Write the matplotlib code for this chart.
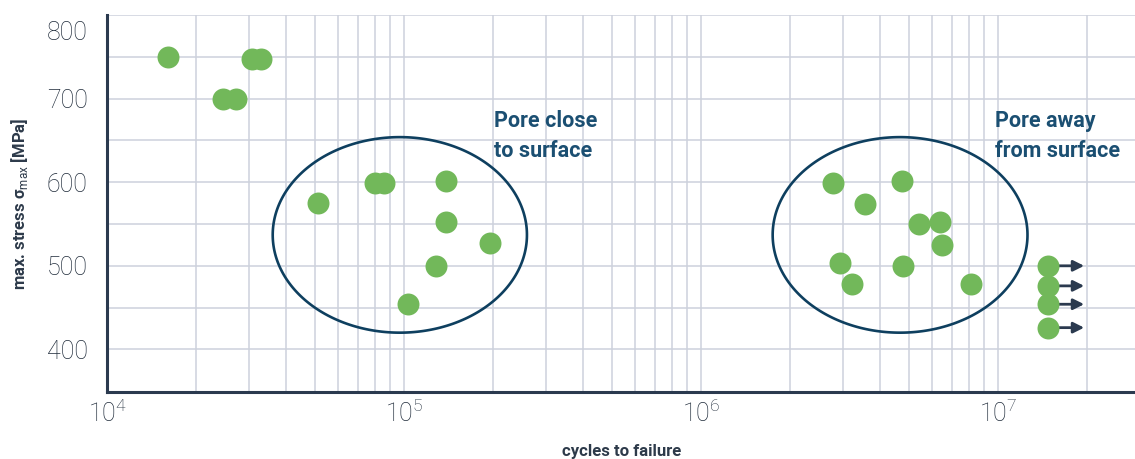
import numpy as np
import matplotlib.pyplot as plt
from matplotlib.patches import Polygon
from matplotlib.ticker import FixedLocator, LogLocator, NullFormatter
from matplotlib.transforms import ScaledTranslation

plt.rcParams['font.family'] = ['Roboto', 'DejaVu Sans']
plt.rcParams['mathtext.fontset'] = 'custom'
plt.rcParams['mathtext.rm'] = 'Roboto'
plt.rcParams['mathtext.bf'] = 'Roboto:bold'

# failures outside the ellipses (short life)
low_cycles = [1.60e4, 2.46e4, 2.72e4, 3.08e4, 3.30e4]
low_stress = [750, 700, 700, 747, 747]

# pore close to surface
close_cycles = [5.14e4, 7.98e4, 8.59e4, 1.38e5, 1.39e5, 1.95e5, 1.28e5, 1.035e5]
close_stress = [575, 599, 599, 602, 552, 527, 500, 454]

# pore away from surface
away_cycles = [2.79e6, 4.76e6, 3.57e6, 5.43e6, 6.39e6, 6.48e6, 2.94e6, 4.79e6, 3.22e6, 8.09e6]
away_stress = [599, 602, 574, 550, 552, 525, 503, 500, 478, 478]

# run-outs
runout_cycles = [1.47e7, 1.47e7, 1.47e7, 1.47e7]
runout_stress = [500, 476, 454, 426]
runout_arrow_end = 1.95e7

# ellipses: centre (cycles, stress), half width in decades, half height in MPa
ellipse_close = (9.68e4, 537, 0.428, 117)
ellipse_away = (4.68e6, 537, 0.429, 117)

green = '#72b85a'
navy = '#2b3a4f'
blue = '#0e3f5f'
grid_c = '#cdd1dc'
tick_c = '#1f2b3a'

fig = plt.figure(figsize=(11.35, 4.59), dpi=100)
ax = fig.add_axes([0.0943, 0.146, 0.906, 0.821])
ax.set_xscale('log')
ax.set_xlim(1e4, 2.9e7)
ax.set_ylim(349, 800)

ax.xaxis.set_major_locator(LogLocator(base=10, numticks=10))
ax.xaxis.set_minor_locator(LogLocator(base=10, subs=np.arange(2, 10), numticks=50))
ax.xaxis.set_minor_formatter(NullFormatter())
ax.yaxis.set_major_locator(FixedLocator([400, 500, 600, 700, 800]))
ax.yaxis.set_minor_locator(FixedLocator([450, 550, 650, 750]))

ax.grid(True, which='both', color=grid_c, linewidth=1.1, zorder=0)
ax.set_axisbelow(True)
ax.tick_params(which='both', length=0)
ax.tick_params(axis='y', labelsize=18, colors=tick_c, pad=14)
ax.tick_params(axis='x', labelsize=18, colors=tick_c, pad=6)

for s in ['top', 'right']:
    ax.spines[s].set_visible(False)
for s in ['left', 'bottom']:
    ax.spines[s].set_color(navy)
    ax.spines[s].set_linewidth(2.2)

# ellipses drawn in log-x space
t = np.linspace(0, 2 * np.pi, 400, endpoint=False)
for xc, yc, a, b in [ellipse_close, ellipse_away]:
    ex = 10 ** (np.log10(xc) + a * np.cos(t))
    ey = yc + b * np.sin(t)
    ax.add_patch(Polygon(np.column_stack([ex, ey]), closed=True, fill=False,
                         edgecolor=blue, linewidth=1.9, zorder=2))

# run-out arrows
for xr, yr in zip(runout_cycles, runout_stress):
    ax.annotate('', xy=(runout_arrow_end, yr), xytext=(xr, yr),
                arrowprops=dict(arrowstyle='-|>', color=navy, lw=2,
                                mutation_scale=16, shrinkA=0, shrinkB=0),
                zorder=3)

ms = 250
ax.scatter(low_cycles, low_stress, s=ms, color=green, zorder=4, linewidths=0)
ax.scatter(close_cycles, close_stress, s=ms, color=green, zorder=4, linewidths=0)
ax.scatter(away_cycles, away_stress, s=ms, color=green, zorder=4, linewidths=0)
ax.scatter(runout_cycles, runout_stress, s=ms, color=green, zorder=4, linewidths=0)

ax.text(2.01e5, 686, 'Pore close\nto surface', color='#1b4f72', fontsize=15.5,
        fontweight='bold', va='top', ha='left', linespacing=1.45, zorder=5)
ax.text(9.77e6, 686, 'Pore away\nfrom surface', color='#1b4f72', fontsize=15.5,
        fontweight='bold', va='top', ha='left', linespacing=1.45, zorder=5)

ax.set_ylabel(r'max. stress σ$_{\rm max}$ [MPa]', fontsize=12, fontweight='bold',
              color='#2d3a4a', labelpad=12)
ax.set_xlabel('cycles to failure', fontsize=12, fontweight='bold', color='#2d3a4a',
              labelpad=12)

fig.canvas.draw()
for lab in ax.get_xticklabels() + ax.get_yticklabels():
    lab.set_fontweight('light')
# top label sits a little below the axis end in the reference
for tick in ax.yaxis.get_major_ticks():
    if abs(tick.get_loc() - 800) < 1e-6:
        tick.label1.set_transform(tick.label1.get_transform()
                                  + ScaledTranslation(0, -15 / 100, fig.dpi_scale_trans))

fig.savefig('out.png', dpi=100)
